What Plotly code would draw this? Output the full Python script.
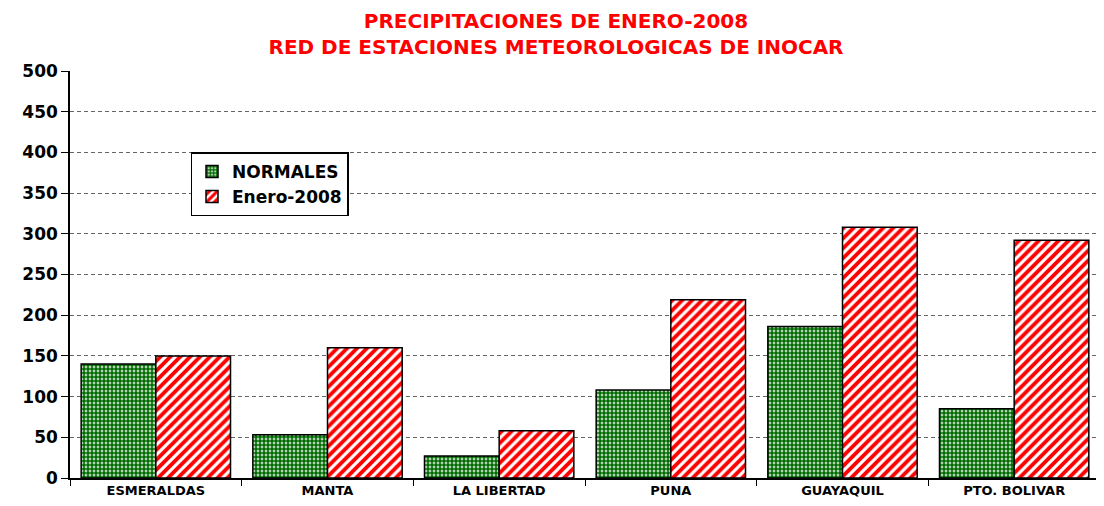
import plotly.graph_objects as go

estaciones = ["ESMERALDAS", "MANTA", "LA LIBERTAD", "PUNA", "GUAYAQUIL", "PTO. BOLIVAR"]
normales = [140, 53, 27, 108, 186, 85]
enero_2008 = [150, 160, 58, 219, 308, 292]

BOLD = "DejaVu Sans, Liberation Sans, Arial, sans-serif"

fig = go.Figure()

fig.add_trace(go.Bar(
    x=estaciones,
    y=normales,
    name="NORMALES",
    marker=dict(
        color="#006b00",
        line=dict(color="black", width=1.5),
        pattern=dict(shape=".", fgcolor="#006b00", bgcolor="white",
                     size=4, solidity=0.75, fgopacity=1),
    ),
))

fig.add_trace(go.Bar(
    x=estaciones,
    y=enero_2008,
    name="Enero-2008",
    marker=dict(
        color="#ff0000",
        line=dict(color="black", width=1.5),
        pattern=dict(shape="/", fgcolor="#ff0000", bgcolor="white",
                     size=7, solidity=0.55, fgopacity=1),
    ),
))

# the page puts the figure 8px in from the top-left corner
fig.update_layout(
    width=1096,
    height=498,
    margin=dict(l=62, r=4, t=63, b=28),
    plot_bgcolor="white",
    paper_bgcolor="white",
    barmode="group",
    bargap=0.13,
    bargroupgap=0,
    font=dict(family=BOLD, color="black"),
    title=dict(
        text="PRECIPITACIONES DE ENERO-2008<br>RED DE ESTACIONES METEOROLOGICAS DE INOCAR",
        x=0.5,
        xanchor="center",
        y=0.96,
        yanchor="middle",
        font=dict(size=20, color="#ff0000", family=BOLD, weight="bold"),
    ),
    legend=dict(
        x=0.117,
        y=0.8,
        xanchor="left",
        yanchor="top",
        bgcolor="white",
        bordercolor="black",
        borderwidth=1.5,
        font=dict(size=17, weight="bold", family=BOLD),
        itemwidth=30,
        tracegroupgap=0,
    ),
)

fig.update_yaxes(
    range=[0, 500],
    dtick=50,
    showgrid=True,
    gridcolor="#666666",
    griddash="4px,3px",
    gridwidth=1,
    showline=True,
    linecolor="black",
    linewidth=1.5,
    ticks="outside",
    ticklen=7,
    tickcolor="black",
    tickfont=dict(size=17, weight="bold", family=BOLD),
    zeroline=False,
)

fig.update_xaxes(
    showline=True,
    linecolor="black",
    linewidth=1.5,
    ticks="outside",
    ticklen=6,
    tickson="boundaries",
    tickcolor="black",
    tickfont=dict(size=13, weight="bold", family=BOLD),
    showgrid=False,
)

fig.write_html("out.html")
